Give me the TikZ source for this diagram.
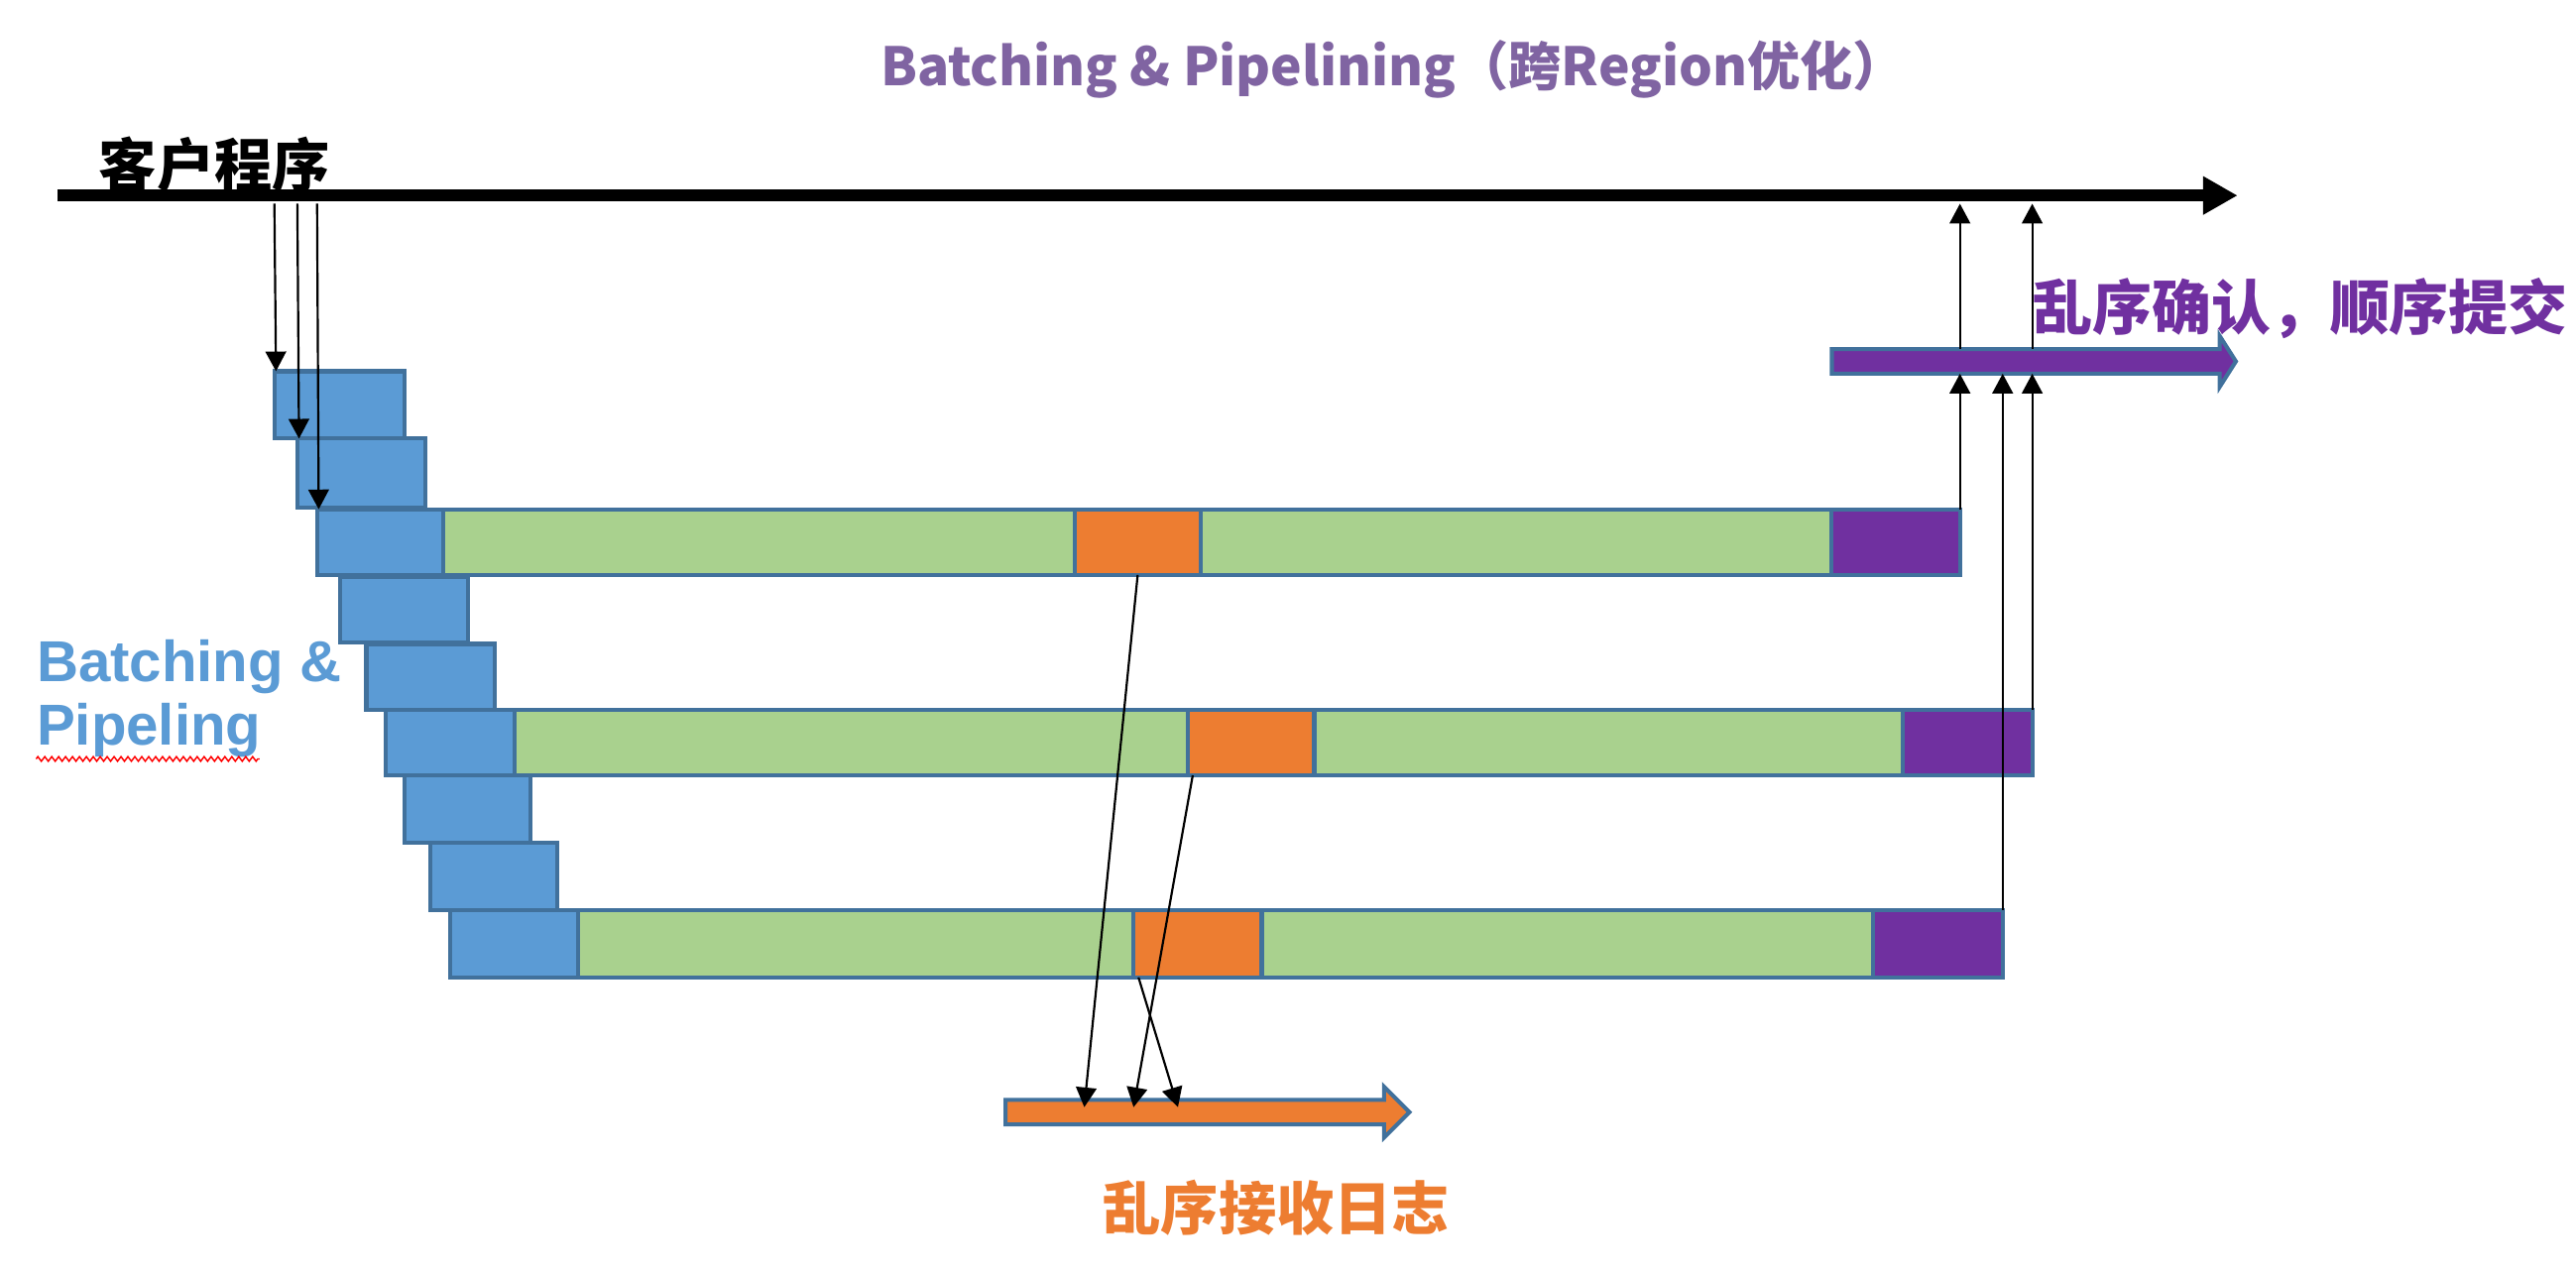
\documentclass[tikz,border=0pt]{standalone}
\usepackage{fontspec}
\setmainfont{Liberation Sans}
\newfontfamily\cjk{Noto Sans CJK SC}
\usetikzlibrary{arrows.meta,fit,calc,shapes.arrows,decorations.pathmorphing}
\definecolor{bfill}{HTML}{5B9BD5}
\definecolor{bord}{HTML}{41719C}
\definecolor{gfill}{HTML}{A9D18E}
\definecolor{ofill}{HTML}{ED7D31}
\definecolor{pfill}{HTML}{7030A0}
\definecolor{ttl}{HTML}{8064A2}
\tikzset{
  cell/.style={draw=bord, line width=1.4pt, inner sep=0pt, outer sep=0pt},
  bluecell/.style={cell, fill=bfill},
  greencell/.style={cell, fill=gfill},
  orangecell/.style={cell, fill=ofill},
  purplecell/.style={cell, fill=pfill},
  link/.style={draw=black, line width=0.75pt, -{Triangle[length=0.24cm,width=0.25cm]}},
  timeline/.style={draw=black, line width=4pt, -{Triangle[length=0.42cm,width=0.44cm]}},
  bararrow/.style={single arrow, draw=bord, line width=1.4pt, inner xsep=0pt, inner ysep=0.125cm,
     single arrow head extend=0.16cm, anchor=west, outer sep=0pt},
}
\begin{document}
\begin{tikzpicture}[x=0.02cm,y=-0.02cm]
\useasboundingbox (0,0) rectangle (1568,775);

% title
\node[text=ttl, font=\cjk\bfseries\fontsize{18.3}{22}\selectfont] (title) at (848,42)
  {Batching \& Pipelining（跨Region优化）};

% client timeline
\coordinate (tl0) at (35,119);
\coordinate (tl1) at (1362,119);
\coordinate (tlbot) at (0,124);
\draw[timeline] (tl0) -- (tl1);
\node[font=\cjk\bfseries\fontsize{20}{24}\selectfont, anchor=south west, inner sep=0pt] (client) at (60,118) {客户程序};

% blue batches
\node[bluecell, fit={(167,226) (246,267)}] (b1) {};
\node[bluecell, fit={(181,267) (259,309)}] (b2) {};
\node[bluecell, fit={(193,310) (270,350)}] (b3) {};
\node[bluecell, fit={(207,351) (285,391)}] (b4) {};
\node[bluecell, fit={(223,392) (301,432)}] (b5) {};
\node[bluecell, fit={(235,432) (313,472)}] (b6) {};
\node[bluecell, fit={(246,472) (323,513)}] (b7) {};
\node[bluecell, fit={(262,513) (339,554)}] (b8) {};
\node[bluecell, fit={(274,554) (352,595)}] (b9) {};

% row 1
\node[greencell, fit={(270,310) (654,350)}] (g1a) {};
\node[greencell, fit={(731,310) (1115,350)}] (g1b) {};
\node[orangecell, fit={(654,310) (731,350)}] (o1) {};
\node[purplecell, fit={(1115,310) (1193,350)}] (p1) {};
% row 2
\node[greencell, fit={(313,432) (723,472)}] (g2a) {};
\node[greencell, fit={(800,432) (1158,472)}] (g2b) {};
\node[orangecell, fit={(723,432) (800,472)}] (o2) {};
\node[purplecell, fit={(1158,432) (1237,472)}] (p2) {};
% row 3
\node[greencell, fit={(352,554) (690,595)}] (g3a) {};
\node[greencell, fit={(768,554) (1140,595)}] (g3b) {};
\node[orangecell, fit={(690,554) (768,595)}] (o3) {};
\node[purplecell, fit={(1140,554) (1219,595)}] (p3) {};

% bars
\node[bararrow, fill=pfill, minimum height=4.92cm, single arrow tip angle=115] (pbar) at (1115,220) {};
\node[bararrow, fill=ofill, minimum height=4.92cm, single arrow tip angle=90] (obar) at (612,677) {};

% labels
\node[text=pfill, font=\cjk\bfseries\fontsize{20.6}{26}\selectfont, anchor=west, inner sep=0pt] (ack) at (1237,188) {乱序确认，顺序提交};
\node[text=ofill, font=\cjk\bfseries\fontsize{20}{24}\selectfont] (log) at (777,735) {乱序接收日志};
\node[text=bfill, font=\bfseries\fontsize{20}{22}\selectfont, anchor=west, align=left, inner sep=0pt] (bp) at (22,425) {Batching \&\\Pipeling};
\draw[red, line width=0.5pt, decorate, decoration={zigzag, amplitude=0.8pt, segment length=2.4pt}] (22,462) -- (158,462);

% client -> batches
\draw[link] (b1.north west |- tlbot) -- ($(b1.north west)+(1,0)$);
\draw[link] (b2.north west |- tlbot) -- ($(b2.north west)+(1,0)$);
\draw[link] (b3.north west |- tlbot) -- ($(b3.north west)+(1,0)$);

% commits up
\draw[link] (p1.north east) -- (p1.north east |- pbar.south);
\draw[link] (p3.north east) -- (p3.north east |- pbar.south);
\draw[link] (p2.north east) -- (p2.north east |- pbar.south);
\draw[link] (p1.north east |- pbar.north) -- (p1.north east |- tlbot);
\draw[link] (p2.north east |- pbar.north) -- (p2.north east |- tlbot);

% logs down
\draw[link] (o1.south) -- ($(obar.west)+(48,-3)$);
\draw[link] ($(o2.south west)+(3,0)$) -- ($(obar.west)+(78,-3)$);
\draw[link] ($(o3.south west)+(3,0)$) -- ($(obar.west)+(105,-3)$);
\end{tikzpicture}
\end{document}
